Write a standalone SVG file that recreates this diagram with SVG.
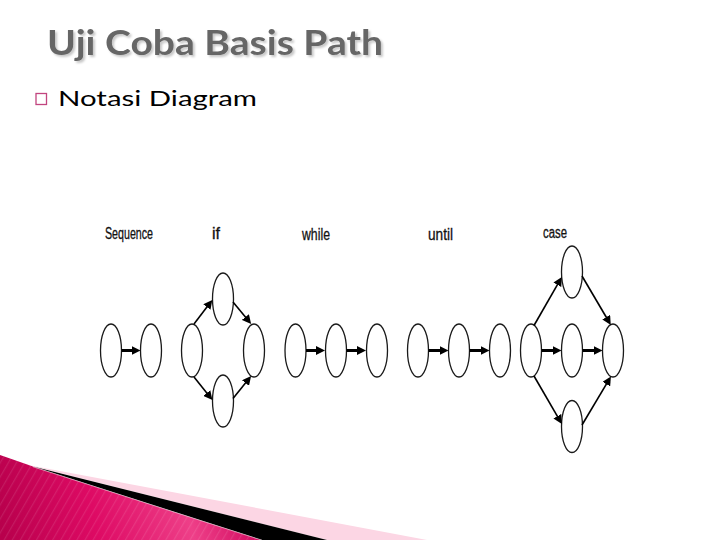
<svg xmlns="http://www.w3.org/2000/svg" width="720" height="540" viewBox="0 0 720 540">
<style>
.nd{fill:#fff;stroke:#1a1a1a;stroke-width:1.3}
.h{stroke:#000;stroke-width:3;fill:none}
.d{stroke:#000;stroke-width:1.6;fill:none}
.lbl{font-family:"Liberation Sans",Arial,sans-serif;font-size:16px;fill:#111;stroke:#111;stroke-width:0.3}
.title{font-family:Lato,"DejaVu Sans",sans-serif;font-weight:700;font-size:34px;fill:#666}
.sub{font-family:Lato,"DejaVu Sans",sans-serif;font-size:22px;fill:#000}
</style>
<defs>
<filter id="sh" x="-5%" y="-20%" width="110%" height="150%">
<feDropShadow dx="2" dy="2" stdDeviation="0.8" flood-color="#000" flood-opacity="0.22"/>
</filter>
<marker id="ah" viewBox="0 0 10 10" refX="5" refY="5" markerWidth="9" markerHeight="9" markerUnits="userSpaceOnUse" orient="auto">
<path d="M0,0 L10,5 L0,10 z" fill="#000"/>
</marker>
<marker id="ad" viewBox="0 0 10 10" refX="5" refY="5" markerWidth="9" markerHeight="9" markerUnits="userSpaceOnUse" orient="auto">
<path d="M0,0 L10,5 L0,10 z" fill="#000"/>
</marker>
<linearGradient id="pk" gradientUnits="userSpaceOnUse" x1="0" y1="520" x2="262" y2="470">
<stop offset="0" stop-color="#b8004c"/>
<stop offset="0.35" stop-color="#de0a64"/>
<stop offset="0.7" stop-color="#ee3f88"/>
<stop offset="1" stop-color="#cc0058"/>
</linearGradient>
<pattern id="st" patternUnits="userSpaceOnUse" width="7" height="7" patternTransform="rotate(30)">
<rect x="0" y="0" width="1.2" height="7" fill="#fff" fill-opacity="0.1"/>
</pattern>
</defs>
<rect width="720" height="540" fill="#fff"/>

<g id="title">
<text class="title" x="47" y="55" filter="url(#sh)" textLength="336" lengthAdjust="spacingAndGlyphs">Uji Coba Basis Path</text>
</g>
<g id="bullet">
<rect x="36" y="93.5" width="10.5" height="11" fill="#fff" stroke="#c2457f" stroke-width="1.3"/>
<text class="sub" x="58" y="106" textLength="199" lengthAdjust="spacingAndGlyphs">Notasi Diagram</text>
</g>

<g id="labels">
<text class="lbl" x="105" y="239" textLength="48" lengthAdjust="spacingAndGlyphs">Sequence</text>
<text class="lbl" x="212" y="239" textLength="8" lengthAdjust="spacingAndGlyphs">if</text>
<text class="lbl" x="302" y="240" textLength="28" lengthAdjust="spacingAndGlyphs">while</text>
<text class="lbl" x="428" y="240" textLength="25" lengthAdjust="spacingAndGlyphs">until</text>
<text class="lbl" x="543" y="238" textLength="24" lengthAdjust="spacingAndGlyphs">case</text>
</g>

<g id="seq-1"><ellipse class="nd" cx="111" cy="350.5" rx="10.5" ry="26.5"/></g>
<g id="seq-2"><ellipse class="nd" cx="151" cy="350.5" rx="10.5" ry="26.5"/></g>
<g id="if-left"><ellipse class="nd" cx="192" cy="350.5" rx="10.5" ry="26.5"/></g>
<g id="if-top"><ellipse class="nd" cx="223" cy="299" rx="10.5" ry="26"/></g>
<g id="if-bottom"><ellipse class="nd" cx="223" cy="401" rx="10.5" ry="26"/></g>
<g id="if-right"><ellipse class="nd" cx="254" cy="350.5" rx="10.5" ry="26.5"/></g>
<g id="while-1"><ellipse class="nd" cx="295.5" cy="350.5" rx="10.5" ry="26.5"/></g>
<g id="while-2"><ellipse class="nd" cx="336" cy="350.5" rx="10.5" ry="26.5"/></g>
<g id="while-3"><ellipse class="nd" cx="377" cy="350.5" rx="10.5" ry="26.5"/></g>
<g id="until-1"><ellipse class="nd" cx="418" cy="350.5" rx="10.5" ry="26.5"/></g>
<g id="until-2"><ellipse class="nd" cx="459" cy="350.5" rx="10.5" ry="26.5"/></g>
<g id="until-3"><ellipse class="nd" cx="500" cy="350.5" rx="10.5" ry="26.5"/></g>
<g id="case-left"><ellipse class="nd" cx="531" cy="350.5" rx="10.5" ry="26.5"/></g>
<g id="case-top"><ellipse class="nd" cx="572" cy="272" rx="10.5" ry="26"/></g>
<g id="case-mid"><ellipse class="nd" cx="572" cy="350.5" rx="10.5" ry="26.5"/></g>
<g id="case-bottom"><ellipse class="nd" cx="572" cy="426.5" rx="10.5" ry="26"/></g>
<g id="case-right"><ellipse class="nd" cx="613" cy="350.5" rx="10.5" ry="26.5"/></g>

<g id="connectors">
<line class="h" x1="121.5" y1="350.5" x2="136" y2="350.5" marker-end="url(#ah)"/>
<line class="h" x1="306" y1="350.5" x2="320.5" y2="350.5" marker-end="url(#ah)"/>
<line class="h" x1="346.5" y1="350.5" x2="361.5" y2="350.5" marker-end="url(#ah)"/>
<line class="h" x1="428.5" y1="350.5" x2="444" y2="350.5" marker-end="url(#ah)"/>
<line class="h" x1="469.5" y1="350.5" x2="485" y2="350.5" marker-end="url(#ah)"/>
<line class="h" x1="541.5" y1="350.5" x2="557" y2="350.5" marker-end="url(#ah)"/>
<line class="h" x1="582.5" y1="350.5" x2="598" y2="350.5" marker-end="url(#ah)"/>

<line class="d" x1="194" y1="324" x2="209.6" y2="303.5" marker-end="url(#ad)"/>
<line class="d" x1="233" y1="302" x2="248.3" y2="320.5" marker-end="url(#ad)"/>
<line class="d" x1="194" y1="377" x2="209.6" y2="396.5" marker-end="url(#ad)"/>
<line class="d" x1="233" y1="398.5" x2="248.3" y2="379.5" marker-end="url(#ad)"/>

<line class="d" x1="534" y1="325.5" x2="559.6" y2="280.9" marker-end="url(#ad)"/>
<line class="d" x1="582" y1="276" x2="608.5" y2="321" marker-end="url(#ad)"/>
<line class="d" x1="534" y1="376" x2="559.6" y2="420.1" marker-end="url(#ad)"/>
<line class="d" x1="582" y1="425" x2="608.6" y2="380.3" marker-end="url(#ad)"/>
</g>

<g id="decoration">
<polygon points="0,455 33,466.5 262,540 0,540" fill="url(#pk)"/>
<polygon points="0,455 33,466.5 262,540 0,540" fill="url(#st)"/>
<polygon points="28,465 427,540 327,540" fill="#fcd6e4"/>
<polygon points="33,466.5 327,540 262,540" fill="#000"/>
<line x1="33" y1="466.8" x2="262" y2="540.2" stroke="#fff" stroke-opacity="0.6" stroke-width="0.8"/>
</g>
</svg>
